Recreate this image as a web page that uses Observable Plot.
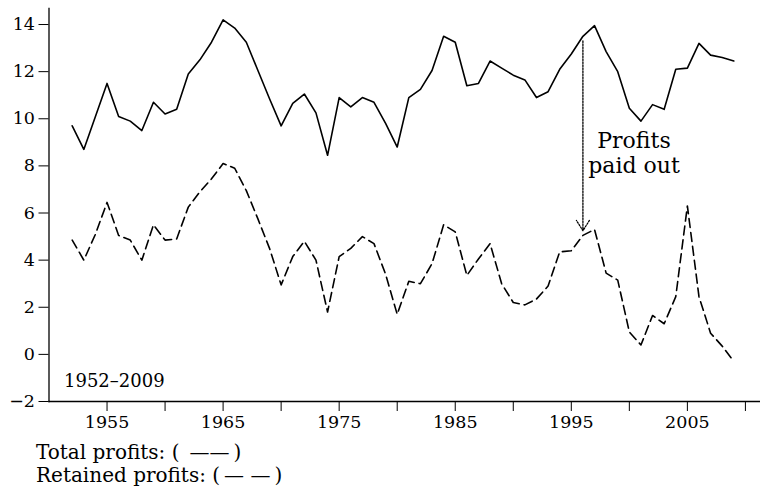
<!DOCTYPE html>
<html>
<head>
<meta charset="utf-8">
<script src="https://cdn.jsdelivr.net/npm/d3@7"></script>
<script src="https://cdn.jsdelivr.net/npm/@observablehq/plot@0.6"></script>
<style>
  html, body { margin: 0; padding: 0; background: white; }
  #chart svg { display: block; }
  #legend { font-family: "DejaVu Serif", serif; font-size: 20px; line-height: 23px; padding: 5px 0 0 36px; color: black; white-space: pre; }
</style>
</head>
<body>
<div id="chart"></div>
<div id="legend"></div>
<script>
const years = [1952,1953,1954,1955,1956,1957,1958,1959,1960,1961,
  1962,1963,1964,1965,1966,1967,1968,1969,1970,1971,
  1972,1973,1974,1975,1976,1977,1978,1979,1980,1981,
  1982,1983,1984,1985,1986,1987,1988,1989,1990,1991,
  1992,1993,1994,1995,1996,1997,1998,1999,2000,2001,
  2002,2003,2004,2005,2006,2007,2008,2009];
const totalProfits = [9.7,8.7,10.1,11.5,10.1,9.9,9.5,10.7,10.2,10.4,
  11.9,12.5,13.25,14.2,13.85,13.25,12.05,10.85,9.7,10.65,
  11.05,10.25,8.45,10.9,10.5,10.9,10.7,9.8,8.8,10.9,
  11.25,12.05,13.5,13.25,11.4,11.5,12.45,12.15,11.85,11.65,
  10.9,11.15,12.1,12.75,13.5,13.95,12.85,12.0,10.45,9.9,
  10.6,10.4,12.1,12.15,13.2,12.7,12.6,12.45];
const retainedProfits = [4.85,4.0,5.1,6.45,5.05,4.85,4.0,5.5,4.85,4.9,
  6.25,6.9,7.45,8.1,7.9,6.95,5.75,4.5,2.95,4.15,
  4.8,4.0,1.8,4.15,4.5,5.0,4.7,3.4,1.7,3.1,
  3.0,3.85,5.5,5.2,3.35,4.05,4.7,3.0,2.2,2.1,
  2.35,2.9,4.35,4.4,5.05,5.3,3.45,3.15,0.95,0.4,
  1.65,1.3,2.45,6.3,2.45,0.9,0.35,-0.3];
const xTicks = [1955,1960,1965,1970,1975,1980,1985,1990,1995,2000,2005,2010];
const xTickLabels = [1955,1965,1975,1985,1995,2005];
const yTicks = [-2,0,2,4,6,8,10,12,14];
const arrowYear = [1996];
const arrowFrom = [13.3];
const arrowTo = [5.25];
const annotationText = ["Profits\npaid out"];
const annotationYear = [2000.4];
const annotationValue = [8.56];
const periodLabel = "1952\u20132009";
const legendLines = ["Total profits: (\u2002\u2014\u2014\u2009)", "Retained profits: (\u2009\u2014 \u2014\u2009)"];

const serif = "'DejaVu Serif', serif";

const totalRows = years.map((y, i) => ({year: y, value: totalProfits[i]}));
const retainedRows = years.map((y, i) => ({year: y, value: retainedProfits[i]}));
const arrowRows = arrowYear.map((y, i) => ({year: y, from: arrowFrom[i], to: arrowTo[i]}));
const annRows = annotationText.map((t, i) => ({text: t, year: annotationYear[i], value: annotationValue[i]}));

const chart = Plot.plot({
  width: 760,
  height: 436,
  marginLeft: 48.5,
  marginRight: 0,
  marginTop: 8,
  marginBottom: 35,
  style: {fontFamily: serif, fontSize: "17.5px", background: "white", color: "black"},
  x: {domain: [1950, 2011.3]},
  y: {domain: [-2, 14.68]},
  marks: [
    Plot.axisX(xTicks, {tickSize: 10, tickPadding: 4, stroke: "black", strokeWidth: 1,
      tickFormat: d => xTickLabels.includes(d) ? String(d) : "", label: null, fontFamily: serif}),
    Plot.axisY(yTicks, {tickSize: 10, tickPadding: 4, stroke: "black", strokeWidth: 1,
      tickFormat: d => d < 0 ? "\u2212" + (-d) : String(d), label: null, fontFamily: serif}),
    Plot.frame({anchor: "left", stroke: "black", strokeWidth: 1.3}),
    Plot.frame({anchor: "bottom", stroke: "black", strokeWidth: 1.3}),
    Plot.line(totalRows, {x: "year", y: "value", stroke: "black", strokeWidth: 1.6}),
    Plot.line(retainedRows, {x: "year", y: "value", stroke: "black", strokeWidth: 1.6, strokeDasharray: "9,5"}),
    Plot.arrow(arrowRows, {x1: "year", x2: "year", y1: "from", y2: "to", stroke: "black", strokeWidth: 1.3,
      strokeDasharray: "1.5,1.5", headLength: 14, headAngle: 65}),
    Plot.text(annRows, {x: "year", y: "value", text: "text", textAnchor: "middle", lineAnchor: "middle",
      lineHeight: 1.1, fontSize: 22, fill: "black", fontFamily: serif}),
    Plot.text([periodLabel], {frameAnchor: "bottom-left", dx: 15, dy: -20, textAnchor: "start",
      lineAnchor: "middle", fontSize: 18, fill: "black", fontFamily: serif})
  ]
});
document.getElementById("chart").appendChild(chart);
const legend = document.getElementById("legend");
legendLines.forEach(t => { const d = document.createElement("div"); d.textContent = t; legend.appendChild(d); });
</script>
</body>
</html>
